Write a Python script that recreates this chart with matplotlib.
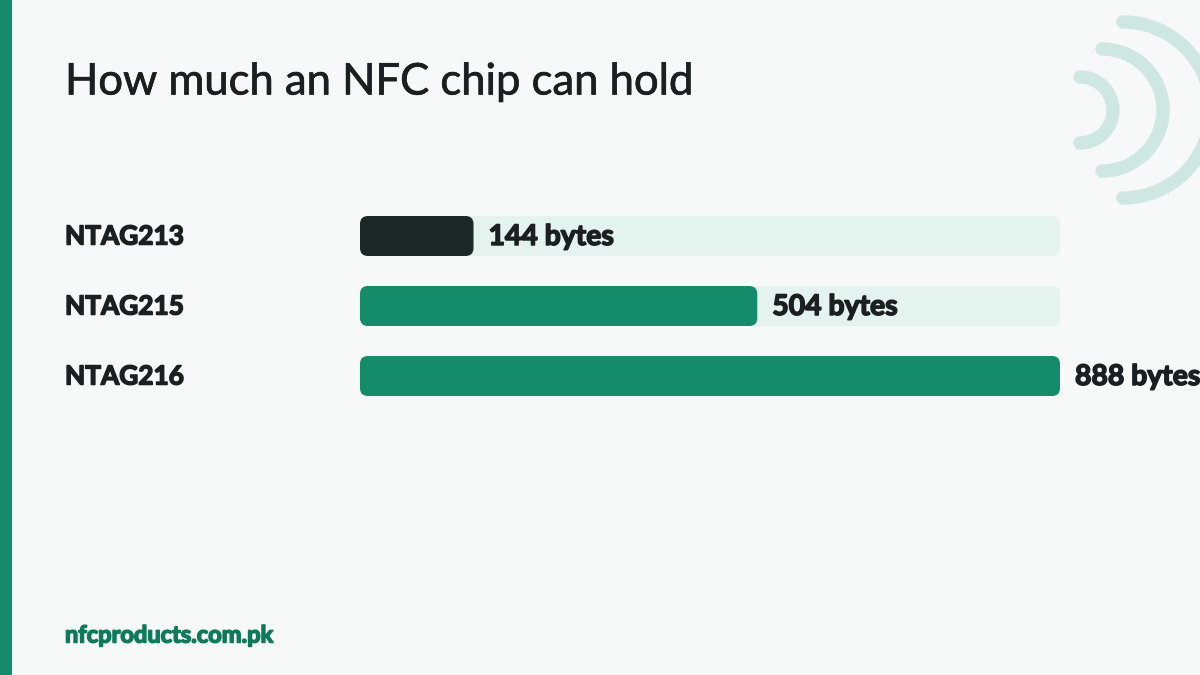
import matplotlib.pyplot as plt
import matplotlib.patheffects as pe
from matplotlib.patches import Arc, FancyBboxPatch, Rectangle

plt.rcParams['font.family'] = ['Lato', 'DejaVu Sans']

# Data
chips = ["NTAG213", "NTAG215", "NTAG216"]
capacity = [144, 504, 888]
value_labels = ["144 bytes", "504 bytes", "888 bytes"]
bar_colors = ["#1c2828", "#148c69", "#148c69"]
title = "How much an NFC chip can hold"
footer = "nfcproducts.com.pk"

W, H = 1200, 675
max_bytes = max(capacity)


# Lato has no black weight here, so thicken the bold with a stroke
def heavy(col, width=1.1):
    return [pe.withStroke(linewidth=width, foreground=col)]


fig = plt.figure(figsize=(12, 6.75), dpi=100, facecolor="#f6f9f8")

# Overlay in pixel coordinates for the page decoration and text
page = fig.add_axes([0, 0, 1, 1])
page.set_xlim(0, W)
page.set_ylim(H, 0)
page.axis("off")

page.add_patch(Rectangle((0, 0), 12, H, color="#148c69", lw=0))

# NFC wave icon, top right
for cx, r in [(1080, 33), (1102, 61), (1123, 88)]:
    page.add_patch(Arc((cx, 110), 2 * r, 2 * r, theta1=-90, theta2=90,
                       color="#cfe7e1", lw=9.6, capstyle="round"))

page.text(65, 82, title, fontsize=31.4, color="#1b1f1f", va="center", ha="left",
          path_effects=heavy("#1b1f1f", 0.5))
page.text(65, 635, footer, fontsize=17, fontweight="bold", color="#0f7a5a",
          va="center", ha="left", path_effects=heavy("#0f7a5a"))

# Bars axes: x runs from 360 to 1060 px, rows are 70 px apart
ax = fig.add_axes([360 / W, 1 - 396 / H, 700 / W, 180 / H])
ax.set_xlim(0, max_bytes)
ax.set_ylim(2 + 20 / 70, -20 / 70)
ax.axis("off")
ax.patch.set_alpha(0)

bar_h = 40 / 70
radius = 8 * max_bytes / 700
aspect = (1 / 70) / (max_bytes / 700)

for i, (chip, val, lab, col) in enumerate(zip(chips, capacity, value_labels, bar_colors)):
    ax.add_patch(FancyBboxPatch((0, i - bar_h / 2), max_bytes, bar_h,
                                boxstyle=f"round,pad=0,rounding_size={radius}",
                                mutation_aspect=aspect, fc="#e5f3ee", ec="none"))
    ax.add_patch(FancyBboxPatch((0, i - bar_h / 2), val, bar_h,
                                boxstyle=f"round,pad=0,rounding_size={radius}",
                                mutation_aspect=aspect, fc=col, ec="none"))
    ax.annotate(lab, (val, i), xytext=(10.8, -0.7), textcoords="offset points",
                fontsize=20.4, fontweight="bold", color="#1b1f1f",
                va="center", ha="left", annotation_clip=False,
                path_effects=heavy("#1b1f1f"))
    page.text(65, 236.5 + 70 * i, chip, fontsize=18.9, fontweight="bold",
              color="#1b1f1f", va="center", ha="left",
              path_effects=heavy("#1b1f1f"))

fig.savefig("out.png", dpi=100, facecolor=fig.get_facecolor())
